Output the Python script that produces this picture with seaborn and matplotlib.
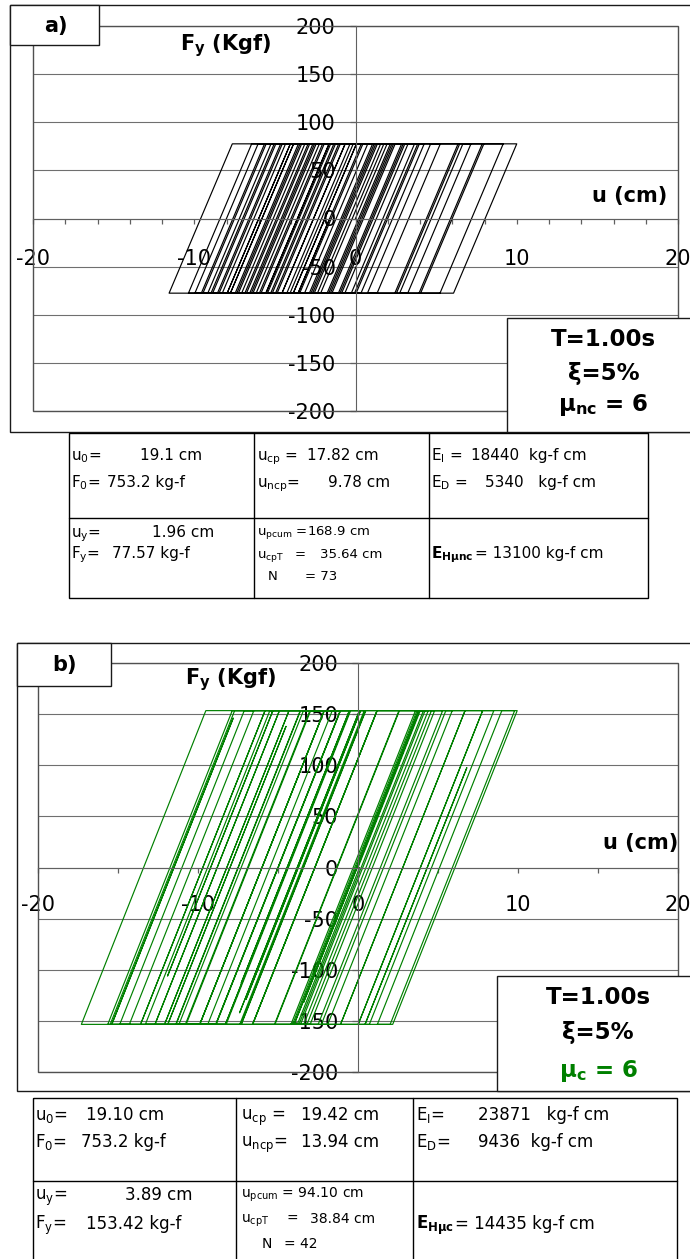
import matplotlib
matplotlib.use('Agg')
import matplotlib.pyplot as plt
import seaborn as sns
import pandas as pd
from matplotlib.patches import Rectangle
from matplotlib.ticker import MultipleLocator

sns.set_style('white')
plt.rcParams['font.family'] = ['DejaVu Sans']
plt.rcParams['mathtext.default'] = 'regular'
plt.rcParams['axes.unicode_minus'] = False
plt.rcParams['text.color'] = 'black'
plt.rcParams['axes.labelcolor'] = 'black'
plt.rcParams['xtick.color'] = 'black'
plt.rcParams['ytick.color'] = 'black'

# ---------------- data ----------------
# panel a) : path vertices of the hysteresis loop (u in cm, F in Kgf)
u_a = [0.0, 1.96,
       2.36, -1.56, -2.66, 1.26, 2.86, -1.06, -3.46, 0.46,
       1.76, -2.16, -4.26, -0.34, 3.06, -0.86, -4.96, -1.04,
       0.36, -3.56, -6.16, -2.24, -0.94, -4.86, -7.46, -3.54,
       -2.64, -6.56, -7.96, -4.04, -1.64, -5.56, -9.16, -5.24,
       -3.14, -7.06, -9.96, -6.04, -4.54, -8.46, -11.56, -7.64,
       -5.64, -9.56, -10.36, -6.44, -3.84, -7.76, -8.96, -5.04,
       -2.44, -6.36, -8.26, -4.34, -3.34, -7.26, -9.46, -5.54,
       -4.04, -7.96, -8.86, -4.94, -2.94, -6.86, -7.76, -3.84,
       -1.34, -5.26, -5.96, -2.04, -0.64, -4.56, -5.56, -1.64,
       0.76, -3.16, -4.06, -0.14, 2.46, -1.46, -2.36, 1.56,
       3.66, -0.26, -1.66, 2.26, 4.26, 0.34, -0.66, 3.26,
       5.26, 1.34, 0.04, 3.96, 6.46, 2.54, 0.74, 4.66,
       7.96, 4.04, 2.44, 6.36, 9.16, 5.24, 3.94, 7.86,
       10.0, 6.08, 2.74, 6.66, 7.16, 3.24, -0.96, 2.96,
       3.86, -0.06, -2.76, 1.16, 2.16, -1.76, -3.86, 0.06,
       1.36, -2.56, -5.16, -1.24, 0.06, -3.86, -6.76, -2.84,
       -1.94, -5.86, -8.56, -4.64, -2.54, -6.46, -7.36, -3.44,
       -0.64, -4.56, -5.46, -1.54, 1.06, -2.86, -3.56, -1.6]
f_a = [0.0, 77.57,
       77.57, -77.57, -77.57, 77.57, 77.57, -77.57, -77.57, 77.57,
       77.57, -77.57, -77.57, 77.57, 77.57, -77.57, -77.57, 77.57,
       77.57, -77.57, -77.57, 77.57, 77.57, -77.57, -77.57, 77.57,
       77.57, -77.57, -77.57, 77.57, 77.57, -77.57, -77.57, 77.57,
       77.57, -77.57, -77.57, 77.57, 77.57, -77.57, -77.57, 77.57,
       77.57, -77.57, -77.57, 77.57, 77.57, -77.57, -77.57, 77.57,
       77.57, -77.57, -77.57, 77.57, 77.57, -77.57, -77.57, 77.57,
       77.57, -77.57, -77.57, 77.57, 77.57, -77.57, -77.57, 77.57,
       77.57, -77.57, -77.57, 77.57, 77.57, -77.57, -77.57, 77.57,
       77.57, -77.57, -77.57, 77.57, 77.57, -77.57, -77.57, 77.57,
       77.57, -77.57, -77.57, 77.57, 77.57, -77.57, -77.57, 77.57,
       77.57, -77.57, -77.57, 77.57, 77.57, -77.57, -77.57, 77.57,
       77.57, -77.57, -77.57, 77.57, 77.57, -77.57, -77.57, 77.57,
       77.57, -77.57, -77.57, 77.57, 77.57, -77.57, -77.57, 77.57,
       77.57, -77.57, -77.57, 77.57, 77.57, -77.57, -77.57, 77.57,
       77.57, -77.57, -77.57, 77.57, 77.57, -77.57, -77.57, 77.57,
       77.57, -77.57, -77.57, 77.57, 77.57, -77.57, -77.57, 77.57,
       77.57, -77.57, -77.57, 77.57, 77.57, -77.57, -77.57, 0.0]

# panel b) : path vertices of the hysteresis loop (u in cm, F in Kgf)
u_b = [0.0, 3.89,
       4.19, -3.59, -4.09, 3.69, 5.89, -1.89, -3.19, 4.59,
       7.79, 0.01, -1.09, 6.69, 9.95, 2.17, 1.21, 8.99,
       9.79, 2.01, 0.01, 7.79, 8.49, 0.71,
       0.44, 6.8, 0.44,
       -2.29, 5.49, 6.69, -1.09, -3.99, 3.79, 4.79, -2.99,
       -5.19, 2.59, 3.79, -3.99, -6.59, 1.19,
       3.84, -3.40, 3.84,
       4.39, -3.39, -7.29, 0.49, 1.19, -6.59, -8.89, -1.11,
       -0.51, -8.29, -9.89, -2.11, -1.11, -8.89,
       -11.89, -4.5, -11.89,
       -13.59, -5.81, -4.91, -12.69, -15.64, -7.86, -5.81, -13.59,
       -17.29, -9.51, -6.51, -14.29, -14.89, -7.11,
       -5.32, -11.9, -5.32,
       -4.31, -12.09, -13.29, -5.51, -3.61, -11.39,
       -15.39, -7.8, -15.39,
       -15.49, -7.71, -3.01, -10.79, -12.09, -4.31, -2.11, -9.89,
       -11.19, -3.41,
       0.09, -7.4, 0.09,
       0.39, -7.39, -10.74, -2.96, -1.61, -9.39, -12.69, -4.91,
       -0.54, -7.3, -0.54,
       -0.51, -8.29, -11.37, -3.59, -1.09, -8.87, -9.89, -2.11,
       0.16, -7.0, 0.16,
       0.47, -7.31, -8.24, -0.46, 2.56, -5.22, -6.58, 1.20,
       4.09, -3.69, -4.19, 3.59, 5.29, -2.49, -3.79, 0.1]
f_b = [0.0, 153.42,
       153.42, -153.42, -153.42, 153.42, 153.42, -153.42, -153.42, 153.42,
       153.42, -153.42, -153.42, 153.42, 153.42, -153.42, -153.42, 153.42,
       153.42, -153.42, -153.42, 153.42, 153.42, -153.42,
       -153.42, 97.5, -153.42,
       -153.42, 153.42, 153.42, -153.42, -153.42, 153.42, 153.42, -153.42,
       -153.42, 153.42, 153.42, -153.42, -153.42, 153.42,
       153.42, -132.0, 153.42,
       153.42, -153.42, -153.42, 153.42, 153.42, -153.42, -153.42, 153.42,
       153.42, -153.42, -153.42, 153.42, 153.42, -153.42,
       -153.42, 138.0, -153.42,
       -153.42, 153.42, 153.42, -153.42, -153.42, 153.42, 153.42, -153.42,
       -153.42, 153.42, 153.42, -153.42, -153.42, 153.42,
       153.42, -106.0, 153.42,
       153.42, -153.42, -153.42, 153.42, 153.42, -153.42,
       -153.42, 146.0, -153.42,
       -153.42, 153.42, 153.42, -153.42, -153.42, 153.42, 153.42, -153.42,
       -153.42, 153.42,
       153.42, -142.0, 153.42,
       153.42, -153.42, -153.42, 153.42, 153.42, -153.42, -153.42, 153.42,
       153.42, -113.0, 153.42,
       153.42, -153.42, -153.42, 153.42, 153.42, -153.42, -153.42, 153.42,
       153.42, -129.0, 153.42,
       153.42, -153.42, -153.42, 153.42, 153.42, -153.42, -153.42, 153.42,
       153.42, -153.42, -153.42, 153.42, 153.42, -153.42, -153.42, 0.0]

y_ticks = [-200, -150, -100, -50, 0, 50, 100, 150, 200]
x_ticks = [-20, -10, 0, 10, 20]

info_a = ['T=1.00s', 'ξ=5%', 'μ$_{nc}$ = 6']
info_b = ['T=1.00s', 'ξ=5%', 'μ$_{c}$ = 6']

# ---------------- layout helpers ----------------
W, H = 690, 1259
fig = plt.figure(figsize=(W / 100, H / 100), dpi=100)
fig.patch.set_facecolor('white')


def px_rect(l, t, r, b):
    return [l / W, 1 - b / H, (r - l) / W, (b - t) / H]


bg = fig.add_axes([0, 0, 1, 1], zorder=0)
bg.set_xlim(0, W); bg.set_ylim(H, 0); bg.axis('off')
fg = fig.add_axes([0, 0, 1, 1], zorder=5)
fg.set_xlim(0, W); fg.set_ylim(H, 0); fg.axis('off')

FRAME = '#1a1a1a'
AXC = '#606060'
GRIDC = '#6f6f6f'
BORDER = '#505050'
GREEN = '#008000'


def setup(ax, minor_step, xpad):
    ax.set_facecolor('none')
    ax.set_xlim(-20, 20)
    ax.set_ylim(-200, 200)
    for s in ['top', 'right']:
        ax.spines[s].set_visible(False)
    ax.spines['left'].set_position(('data', 0))
    ax.spines['bottom'].set_position(('data', 0))
    for s in ['left', 'bottom']:
        ax.spines[s].set_color(AXC)
        ax.spines[s].set_linewidth(0.8)
    ax.add_patch(Rectangle((0, 0), 1, 1, transform=ax.transAxes, fill=False,
                           ec=BORDER, lw=1.0, clip_on=False, zorder=0.6))
    ax.set_xticks(x_ticks)
    ax.xaxis.set_minor_locator(MultipleLocator(minor_step))
    ax.set_yticks(y_ticks)
    ax.tick_params(axis='x', which='both', bottom=True, top=False,
                   direction='out', length=3.8, width=0.9, color=AXC)
    ax.tick_params(axis='x', which='major', labelsize=15, pad=xpad,
                   labelcolor='black')
    ax.tick_params(axis='y', which='major', left=True, right=False,
                   direction='out', length=4.3, width=0.9, color=AXC,
                   labelsize=15, pad=10, labelcolor='black')
    ax.yaxis.grid(True, color=GRIDC, lw=0.8)
    ax.xaxis.grid(False)
    ax.set_axisbelow(True)
    ax.set_xlabel('')
    ax.set_ylabel('')


# ---------------- panel a ----------------
bg.add_patch(Rectangle((9.5, 5), 720, 427, fill=False, ec=FRAME, lw=1.0))
ax_a = fig.add_axes(px_rect(33, 26, 678, 411), zorder=2)
sns.lineplot(x=u_a, y=f_a, sort=False, estimator=None, ax=ax_a,
             color='black', linewidth=0.85, legend=False)
setup(ax_a, 2, 18.4)

fg.add_patch(Rectangle((9.5, 5), 89.5, 40, fc='white', ec=FRAME, lw=1.0))
fg.text(56, 32, 'a)', ha='center', va='baseline', fontsize=15, fontweight='bold')
fg.text(226, 50, 'F$_y$ (Kgf)', ha='center', va='baseline', fontsize=15, fontweight='bold')
fg.text(667, 202, 'u (cm)', ha='right', va='baseline', fontsize=15, fontweight='bold')
fg.add_patch(Rectangle((507, 318), 220, 114, fc='white', ec=FRAME, lw=1.0))
for txt, yb in zip(info_a, [346, 380, 411]):
    fg.text(603.5, yb, txt, ha='center', va='baseline', fontsize=16.5, fontweight='bold')

# ---------------- panel b ----------------
bg.add_patch(Rectangle((17, 643), 720, 448, fill=False, ec=FRAME, lw=1.0))
ax_b = fig.add_axes(px_rect(38, 663, 678, 1072), zorder=2)
sns.lineplot(x=u_b, y=f_b, sort=False, estimator=None, ax=ax_b,
             color=GREEN, linewidth=0.85, legend=False)
setup(ax_b, 5, 16.2)

fg.add_patch(Rectangle((17, 643), 94, 43, fc='white', ec=FRAME, lw=1.0))
fg.text(64.5, 671, 'b)', ha='center', va='baseline', fontsize=15, fontweight='bold')
fg.text(231, 684, 'F$_y$ (Kgf)', ha='center', va='baseline', fontsize=15, fontweight='bold')
fg.text(678, 849, 'u (cm)', ha='right', va='baseline', fontsize=15, fontweight='bold')
fg.add_patch(Rectangle((497, 976), 230, 115, fc='white', ec=FRAME, lw=1.0))
for txt, yb, col in zip(info_b, [1004, 1039, 1077], ['black', 'black', GREEN]):
    fg.text(598, yb, txt, ha='center', va='baseline', fontsize=16.5,
            fontweight='bold', color=col)


# ---------------- tables ----------------
def table_frame(l, t, r, b, cols, row):
    fg.add_patch(Rectangle((l, t), r - l, b - t, fill=False, ec='black', lw=1.0))
    for c in cols:
        fg.plot([c, c], [t, b], color='black', lw=1.0)
    fg.plot([l, r], [row, row], color='black', lw=1.0)


table_frame(68.5, 433, 648, 598, [254, 428.5], 518)
FS_A, FS_AS = 11, 9.5
cells_a = [
    (71, 460, 'u$_0$=', FS_A), (140, 460, '19.1 cm', FS_A),
    (71, 487, 'F$_0$=', FS_A), (107, 487, '753.2 kg-f', FS_A),
    (257, 460, 'u$_{cp}$ =', FS_A), (307, 460, '17.82 cm', FS_A),
    (257, 487, 'u$_{ncp}$=', FS_A), (328, 487, '9.78 cm', FS_A),
    (431, 460, 'E$_I$ =', FS_A), (471, 460, '18440  kg-f cm', FS_A),
    (431, 487, 'E$_D$ =', FS_A), (485, 487, '5340   kg-f cm', FS_A),
    (71, 537, 'u$_y$=', FS_A), (152, 537, '1.96 cm', FS_A),
    (71, 558, 'F$_y$=', FS_A), (112, 558, '77.57 kg-f', FS_A),
    (257, 535, 'u$_{pcum}$ =168.9 cm', FS_AS),
    (257, 558, 'u$_{cpT}$', FS_AS), (295, 558, '=', FS_AS), (320, 558, '35.64 cm', FS_AS),
    (268, 580, 'N', FS_AS), (305, 580, '= 73', FS_AS),
]
for x, y, s, fs in cells_a:
    fg.text(x, y, s, ha='left', va='baseline', fontsize=fs)
ta = fg.text(431, 558, 'E$_{Hμnc}$', ha='left', va='baseline', fontsize=FS_A, fontweight='bold')
fg.annotate('= 13100 kg-f cm', xy=(1, 558), xycoords=(ta, 'data'),
            xytext=(1, 0), textcoords='offset points',
            ha='left', va='baseline', fontsize=FS_A)

table_frame(33, 1098, 676.5, 1275, [236, 413], 1181)
FS_B, FS_BS = 12, 10
cells_b = [
    (35, 1120, 'u$_0$=', FS_B), (86, 1120, '19.10 cm', FS_B),
    (35, 1147, 'F$_0$=', FS_B), (81, 1147, '753.2 kg-f', FS_B),
    (241, 1120, 'u$_{cp}$ =', FS_B), (301, 1120, '19.42 cm', FS_B),
    (241, 1147, 'u$_{ncp}$=', FS_B), (301, 1147, '13.94 cm', FS_B),
    (416, 1120, 'E$_I$=', FS_B), (478, 1120, '23871   kg-f cm', FS_B),
    (416, 1147, 'E$_D$=', FS_B), (478, 1147, '9436  kg-f cm', FS_B),
    (35, 1200, 'u$_y$=', FS_B), (125, 1200, '3.89 cm', FS_B),
    (35, 1229, 'F$_y$=', FS_B), (86, 1229, '153.42 kg-f', FS_B),
    (241, 1198, 'u$_{pcum}$ = 94.10 cm', FS_BS),
    (241, 1223, 'u$_{cpT}$', FS_BS), (286, 1223, '=', FS_BS), (310, 1223, '38.84 cm', FS_BS),
    (262, 1248, 'N', FS_BS), (284, 1248, '= 42', FS_BS),
]
for x, y, s, fs in cells_b:
    fg.text(x, y, s, ha='left', va='baseline', fontsize=fs)
tb = fg.text(416, 1229, 'E$_{Hμc}$', ha='left', va='baseline', fontsize=FS_B, fontweight='bold')
fg.annotate('= 14435 kg-f cm', xy=(1, 1229), xycoords=(tb, 'data'),
            xytext=(1, 0), textcoords='offset points',
            ha='left', va='baseline', fontsize=FS_B)

fig.savefig('out.png', dpi=100, facecolor='white')
